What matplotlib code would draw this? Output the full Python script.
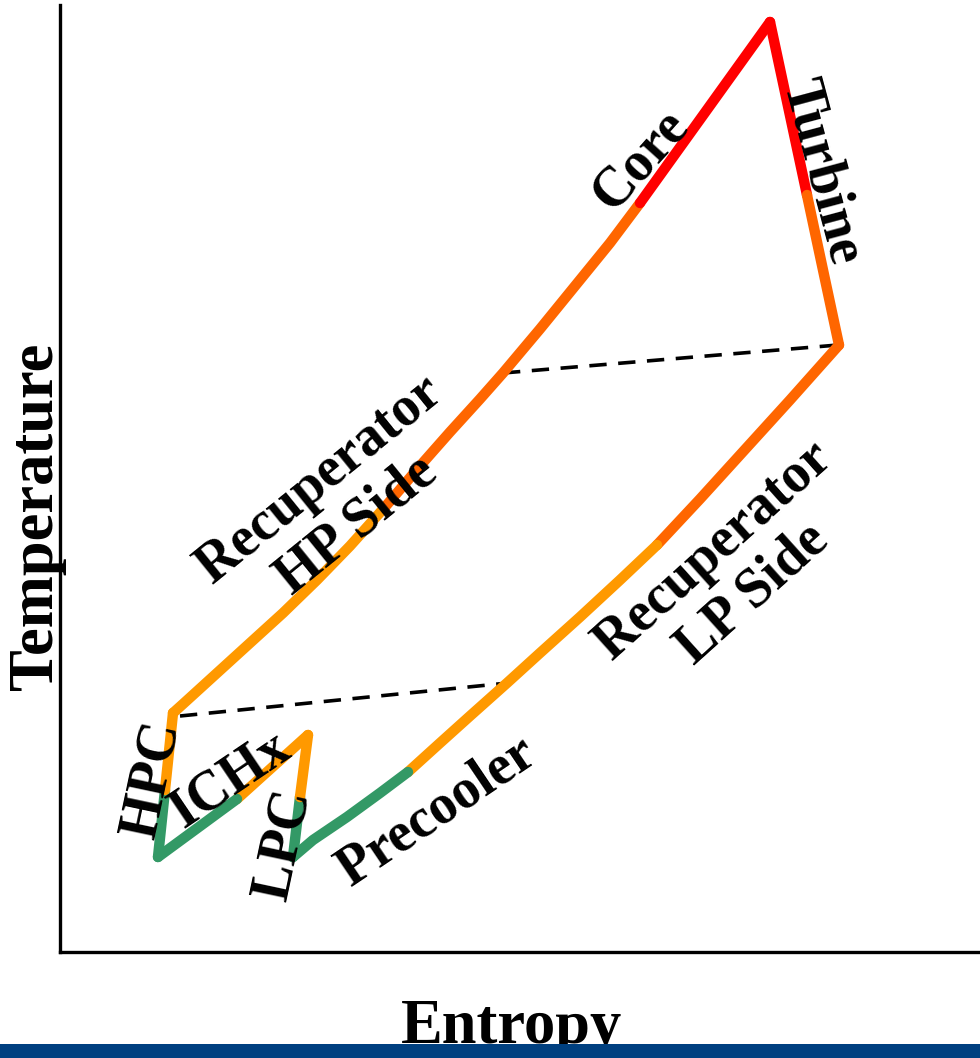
"""
T-s diagram of the recuperated cycle, coloured by process section
"""

import matplotlib.pyplot as plt
from matplotlib.patches import Rectangle

# entropy / temperature in arbitrary units, one small array per section
lpc_low_s = [233, 240]
lpc_low_T = [95, 155]
lpc_high_s = [240, 248]
lpc_high_T = [155, 217]
ichx_hot_s = [248, 177]
ichx_hot_T = [217, 153]
ichx_cold_s = [177, 98]
ichx_cold_T = [153, 95]
hpc_low_s = [98, 105]
hpc_low_T = [95, 162]
hpc_high_s = [105, 113]
hpc_high_T = [162, 239]
hp_cold_s = [113, 123, 190, 223, 257, 290, 325]
hp_cold_T = [239, 248, 309, 339, 372, 406, 445]
hp_hot_s = [325, 360, 390, 420, 443, 480, 515, 550, 580]
hp_hot_T = [445, 486, 520, 553, 579, 623, 666, 709, 749]
core_s = [580, 710]
core_T = [749, 930]
turb_hot_s = [710, 747]
turb_hot_T = [930, 757]
turb_cold_s = [747, 779]
turb_cold_T = [757, 607]
lp_hot_s = [779, 730, 680, 640, 597]
lp_hot_T = [607, 552, 497, 453, 407]
lp_cold_s = [597, 560, 520, 480, 447, 410, 380, 348]
lp_cold_T = [407, 372, 335, 299, 269, 236, 209, 180]
precool_s = [348, 320, 287, 253, 233]
precool_T = [180, 159, 135, 112, 95]

# pinch lines between recuperator sides
pinch_hot_s = [443, 778]
pinch_hot_T = [579, 607]
pinch_cold_s = [120, 448]
pinch_cold_T = [236, 269]

green = '#339966'
light_orange = '#FF9900'
dark_orange = '#FF6600'
red = '#FF0000'

sections = [
    (lpc_low_s, lpc_low_T, green),
    (lpc_high_s, lpc_high_T, light_orange),
    (ichx_hot_s, ichx_hot_T, light_orange),
    (ichx_cold_s, ichx_cold_T, green),
    (hpc_low_s, hpc_low_T, green),
    (hpc_high_s, hpc_high_T, light_orange),
    (hp_cold_s, hp_cold_T, light_orange),
    (hp_hot_s, hp_hot_T, dark_orange),
    (core_s, core_T, red),
    (turb_hot_s, turb_hot_T, red),
    (turb_cold_s, turb_cold_T, dark_orange),
    (lp_hot_s, lp_hot_T, dark_orange),
    (lp_cold_s, lp_cold_T, light_orange),
    (precool_s, precool_T, green),
]

plt.rcParams['font.family'] = ['Liberation Serif', 'DejaVu Serif']
plt.rcParams['font.weight'] = 'bold'

fig = plt.figure(figsize=(9.8, 10.58), dpi=100)
ax = fig.add_axes([60 / 980, 106 / 1058, 920 / 980, 947 / 1058])

for s, T, c in sections:
    ax.plot(s, T, color=c, lw=7.5, solid_capstyle='round', solid_joinstyle='round', zorder=3)

ax.plot(pinch_hot_s, pinch_hot_T, color='black', lw=2.6, ls=(0, (4.8, 3.2)), zorder=2)
ax.plot(pinch_cold_s, pinch_cold_T, color='black', lw=2.6, ls=(0, (4.8, 3.2)), zorder=2)

lab = dict(ha='center', va='center', rotation_mode='anchor', fontsize=40,
           fontweight='bold', zorder=5)
ax.text(278, 450, 'Recuperator\nHP Side', rotation=39, linespacing=1.15, **lab)
ax.text(673, 380, 'Recuperator\nLP Side', rotation=42, linespacing=1.15, **lab)
ax.text(580, 792, 'Core', rotation=48, **lab)
ax.text(762, 780, 'Turbine', rotation=-75, **lab)
ax.text(377, 140, 'Precooler', rotation=34, **lab)
ax.text(92, 172, 'HPC', rotation=78, **lab)
ax.text(170, 172, 'ICHx', rotation=34, **lab)
ax.text(223, 107, 'LPC', rotation=78, **lab)

ax.set_xlim(0, 920)
ax.set_ylim(0, 947)
ax.set_xticks([])
ax.set_yticks([])
ax.spines['top'].set_visible(False)
ax.spines['right'].set_visible(False)
ax.spines['left'].set_linewidth(2.4)
ax.spines['bottom'].set_linewidth(2.4)
ax.patch.set_alpha(0)

fig.text(511 / 980, 1 - 1043 / 1058, 'Entropy', ha='center', va='baseline',
         fontsize=45, fontweight='bold', zorder=3)
fig.text(52 / 980, 1 - 516 / 1058, 'Temperature', ha='center', va='baseline',
         rotation=90, rotation_mode='anchor', fontsize=45, fontweight='bold', zorder=3)

fig.patches.append(Rectangle((0, 0), 1, 14 / 1058, transform=fig.transFigure,
                             facecolor='#004080', edgecolor='none', zorder=10))

fig.savefig('out.png', dpi=100)
